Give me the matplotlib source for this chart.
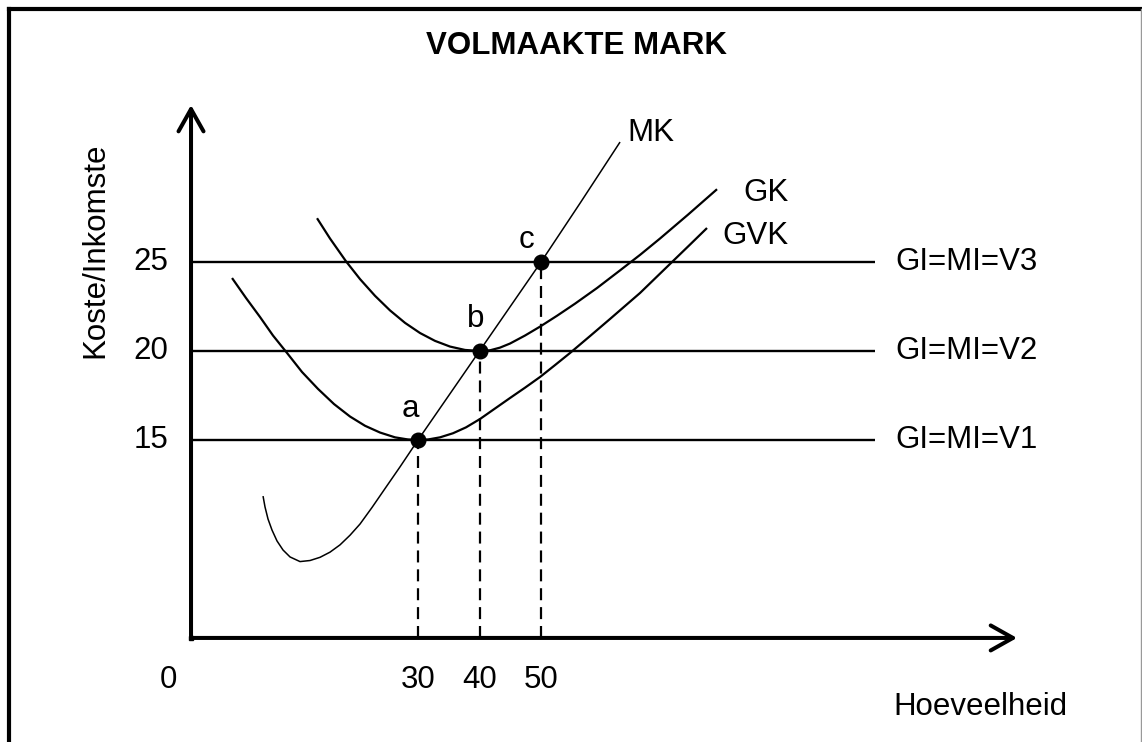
import matplotlib
matplotlib.use("Agg")
import matplotlib.pyplot as plt
from matplotlib.lines import Line2D

plt.rcParams['font.family'] = ['Liberation Sans', 'DejaVu Sans']

# ---------------- data ----------------
title = "VOLMAAKTE MARK"
x_label = "Hoeveelheid"
y_label = "Koste/Inkomste"

# equilibrium points a, b, c
point_labels = ["a", "b", "c"]
point_q = [30, 40, 50]
point_price = [15, 20, 25]
price_line_labels = ["GI=MI=V1", "GI=MI=V2", "GI=MI=V3"]
x_tick_labels = ["0", "30", "40", "50"]
y_tick_labels = ["15", "20", "25"]

# MK (marginal cost)
mk_q = [4.80, 5.12, 5.61, 6.26, 7.07, 8.05, 9.19, 10.81, 12.44, 14.07, 15.69,
        17.32, 18.94, 20.57, 22.52, 24.63, 27.07, 30, 34.88, 40, 44.96, 50,
        56.34, 62.85]
mk_c = [11.85, 11.24, 10.56, 9.94, 9.33, 8.82, 8.43, 8.17, 8.23, 8.41, 8.70,
        9.11, 9.65, 10.28, 11.21, 12.27, 13.49, 15, 17.44, 20, 22.48, 25,
        28.30, 31.74]

# GK (average total cost)
gk_q = [13.58, 15.69, 18.29, 20.57, 23.01, 25.45, 27.89, 30.33, 32.76, 35.20,
        37.64, 40, 41.71, 43.33, 44.96, 47.40, 49.84, 52.60, 55.53, 59.11,
        62.85, 66.10, 69.35, 73.90, 78.62]
gk_c = [27.46, 26.32, 25.04, 24.04, 23.10, 22.28, 21.58, 21.01, 20.57, 20.25,
        20.06, 20, 20.04, 20.19, 20.42, 20.87, 21.37, 21.98, 22.66, 23.54,
        24.53, 25.40, 26.32, 27.66, 29.09]

# GVK (average variable cost)
gvk_q = [-0.24, 2.03, 4.31, 6.42, 8.70, 11.14, 13.74, 16.34, 18.94, 21.38,
         23.82, 26.26, 28.37, 30, 31.63, 33.58, 35.69, 37.80, 40.08, 42.52,
         44.96, 47.40, 49.84, 52.28, 54.72, 57.97, 61.22, 63.66, 66.10, 68.70,
         71.30, 74.23, 76.99]
gvk_c = [24.10, 22.98, 21.91, 20.87, 19.89, 18.82, 17.87, 17.02, 16.32, 15.80,
         15.42, 15.15, 15.03, 15.0, 15.03, 15.15, 15.38, 15.71, 16.18, 16.77,
         17.36, 17.94, 18.54, 19.21, 19.89, 20.84, 21.80, 22.53, 23.26, 24.13,
         25.0, 25.98, 26.91]

# ---------------- layout ----------------
W, H = 1142, 742
fig = plt.figure(figsize=(W / 100, H / 100), dpi=100)
ax = fig.add_axes([0, 0, 1, 1])
ax.set_xlim(-37.97, 147.72)
ax.set_ylim(-1.966, 39.72)
ax.axis('off')

FS = 22.5
q0, c0 = -6.91, 3.88          # origin of the drawn axes
q_end, c_end = 127.4, 33.82   # arrow tips
line_end = 104.31             # right end of the price lines

# frame (left/top thick, right thin grey)
fig.add_artist(Line2D([9 / W, 9 / W], [0, 1 - 9 / H], transform=fig.transFigure,
                      color='black', lw=3.0, solid_capstyle='projecting'))
fig.add_artist(Line2D([9 / W, 1141 / W], [1 - 9 / H, 1 - 9 / H], transform=fig.transFigure,
                      color='black', lw=3.0, solid_capstyle='projecting'))
fig.add_artist(Line2D([1141 / W, 1141 / W], [0, 1 - 9 / H], transform=fig.transFigure,
                      color='#999999', lw=1.0))

# axes with open arrow heads
arrow_kw = dict(arrowstyle='->,head_length=0.8,head_width=0.45', lw=2.9,
                color='black', shrinkA=0, shrinkB=0, mutation_scale=20)
ax.annotate('', xy=(q0, c_end), xytext=(q0, c0), arrowprops=arrow_kw)
ax.annotate('', xy=(q_end, c0), xytext=(q0, c0), arrowprops=arrow_kw)
ax.plot([q0], [c0], marker='s', ms=2.9, color='black')

# price lines
for p, lab in zip(point_price, price_line_labels):
    ax.plot([q0, line_end], [p, p], color='black', lw=1.7, solid_capstyle='butt')
    ax.text(107.56, p, lab, fontsize=FS, ha='left', va='center')

# dashed drop lines
for q, p in zip(point_q, point_price):
    ax.plot([q, q], [c0, p], color='black', lw=1.6, linestyle=(0, (5.4, 3.1)))

# curves
curve_kw = dict(color='black', solid_capstyle='butt', solid_joinstyle='round')
ax.plot(mk_q, mk_c, lw=1.1, **curve_kw)
ax.plot(gk_q, gk_c, lw=1.6, **curve_kw)
ax.plot(gvk_q, gvk_c, lw=1.6, **curve_kw)

# points
ax.plot(point_q, point_price, 'o', color='black', ms=10.5, zorder=5)
label_offsets = [(-1.3, 1.74), (-0.57, 1.8), (-2.28, 1.24)]
for (q, p, lab), (dq, dc) in zip(zip(point_q, point_price, point_labels), label_offsets):
    ax.text(q + dq, p + dc, lab, fontsize=FS, ha='center', va='center')

# curve labels
ax.text(63.98, 32.25, "MK", fontsize=FS, ha='left', va='center')
ax.text(82.85, 28.88, "GK", fontsize=FS, ha='left', va='center')
ax.text(79.43, 26.46, "GVK", fontsize=FS, ha='left', va='center')

# tick labels
ax.text(-10.65, 1.52, x_tick_labels[0], fontsize=FS, ha='center', va='center')
for q, lab in zip(point_q, x_tick_labels[1:]):
    ax.text(q, 1.52, lab, fontsize=FS, ha='center', va='center')
for p, lab in zip(point_price, y_tick_labels):
    ax.text(-10.65, p, lab, fontsize=FS, ha='right', va='center')

# axis titles and title
ax.text(121.38, 0.0, x_label, fontsize=FS, ha='center', va='center')
ax.text(-22.52, 25.67, y_label, fontsize=FS, ha='center', va='center', rotation=90)
ax.text(55.85, 37.13, title, fontsize=FS, ha='center', va='center', fontweight='bold')

fig.savefig('out.png', dpi=100)
